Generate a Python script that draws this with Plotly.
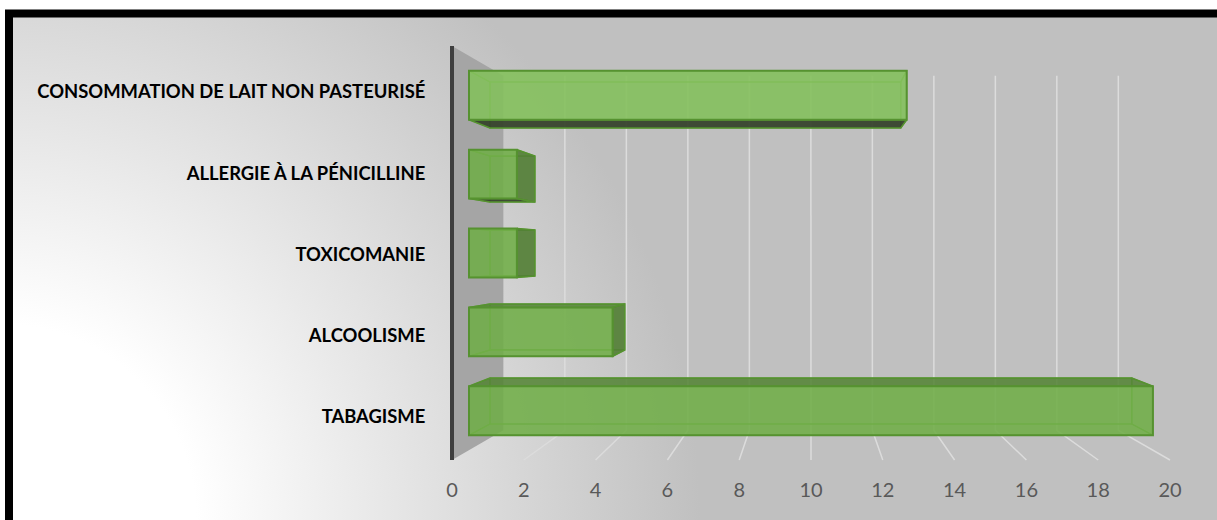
import base64
import plotly.graph_objects as go

# ---- data -------------------------------------------------------------
categories = [
    "TABAGISME",
    "ALCOOLISME",
    "TOXICOMANIE",
    "ALLERGIE À LA PÉNICILLINE",
    "CONSOMMATION DE LAIT NON PASTEURISÉ",
]
values = [20.0, 4.2, 1.4, 1.4, 12.8]
value_ticks = [0, 2, 4, 6, 8, 10, 12, 14, 16, 18, 20]
value_tick_text = [str(t) for t in value_ticks]

# ---- page / perspective scene (pixels) ---------------------------------
W, H = 1217, 520
CX, CY = 810.0, 253.0            # vanishing point of the 3-D box
FRONT_X0, FRONT_X1 = 452.0, 1170.0  # value 0 .. VMAX along the front floor edge
FRONT_TOP, FRONT_BOTTOM = 46.0, 460.0
VMAX = 20.0
DEPTH_SHRINK = 0.1435            # scale lost between the front edge and the back wall
Z_FRONT, Z_BACK = 0.331, 0.739   # depth of the bars' front and back faces
BAR_FRACTION = 0.62              # bar thickness as share of a category slot
LABEL_FIRST, LABEL_LAST = 417.0, 92.0  # category label centres (bottom, top)

n_cat = len(categories)
slot = (FRONT_BOTTOM - FRONT_TOP) / n_cat
half = slot * BAR_FRACTION / 2


def k(z):
    return 1.0 - DEPTH_SHRINK * z


def xf(v):
    return FRONT_X0 + (FRONT_X1 - FRONT_X0) * v / VMAX


def yf(p):
    # front-plane centre of category position p (0 = bottom)
    return FRONT_BOTTOM - slot * (p + 0.5)


def proj(v, y, z):
    s = k(z)
    return CX + (xf(v) - CX) * s, CY + (y - CY) * s


# ---- figure ---------------------------------------------------------------
fig = go.Figure()

# side wall (left) of the 3-D box
wall = [proj(0, FRONT_TOP, 0), proj(0, FRONT_TOP, 1), proj(0, FRONT_BOTTOM, 1), proj(0, FRONT_BOTTOM, 0)]
fig.add_trace(go.Scatter(
    x=[p[0] for p in wall] + [wall[0][0]], y=[p[1] for p in wall] + [wall[0][1]],
    fill="toself", fillcolor="#a5a5a5", mode="lines", line=dict(width=0),
    hoverinfo="skip", showlegend=False))

# back-wall gridlines and their floor continuation
gx, gy = [], []
for t in value_ticks[1:]:
    for pt in (proj(t, FRONT_TOP, 1), proj(t, FRONT_BOTTOM, 1), proj(t, FRONT_BOTTOM, 0)):
        gx.append(pt[0]); gy.append(pt[1])
    gx.append(None); gy.append(None)
fig.add_trace(go.Scatter(x=gx, y=gy, mode="lines", line=dict(color="#dcdcdc", width=1.5),
                         hoverinfo="skip", showlegend=False))

# dark front edge of the wall
e0, e1 = proj(0, FRONT_TOP, 0), proj(0, FRONT_BOTTOM, 0)
fig.add_trace(go.Scatter(x=[e0[0], e1[0]], y=[e0[1], e1[1]], mode="lines",
                         line=dict(color="#3f3f3f", width=4), hoverinfo="skip", showlegend=False))

HIDDEN_FILL = "rgba(112,173,71,0.12)"
HIDDEN_LINE = "rgba(104,168,64,0.95)"
EDGE = "rgb(86,146,48)"


def face(pts, fill, line, width):
    fig.add_trace(go.Scatter(
        x=[p[0] for p in pts] + [pts[0][0]], y=[p[1] for p in pts] + [pts[0][1]],
        fill="toself", fillcolor=fill, mode="lines", line=dict(color=line, width=width),
        hoverinfo="skip", showlegend=False))


# depth faces of every bar (the front face is the bar trace itself)
for p, val in enumerate(values):
    top, bot = yf(p) - half, yf(p) + half
    back = [proj(0, top, Z_BACK), proj(val, top, Z_BACK), proj(val, bot, Z_BACK), proj(0, bot, Z_BACK)]
    left = [proj(0, top, Z_FRONT), proj(0, top, Z_BACK), proj(0, bot, Z_BACK), proj(0, bot, Z_FRONT)]
    topf = [proj(0, top, Z_FRONT), proj(val, top, Z_FRONT), proj(val, top, Z_BACK), proj(0, top, Z_BACK)]
    botf = [proj(0, bot, Z_FRONT), proj(val, bot, Z_FRONT), proj(val, bot, Z_BACK), proj(0, bot, Z_BACK)]
    right = [proj(val, top, Z_FRONT), proj(val, top, Z_BACK), proj(val, bot, Z_BACK), proj(val, bot, Z_FRONT)]

    top_visible = top > CY
    bot_visible = bot < CY
    right_visible = xf(val) < CX

    face(back, HIDDEN_FILL, HIDDEN_LINE, 1.2)
    face(left, HIDDEN_FILL, HIDDEN_LINE, 1.2)
    if not top_visible:
        face(topf, HIDDEN_FILL, HIDDEN_LINE, 1.2)
    if not bot_visible:
        face(botf, HIDDEN_FILL, HIDDEN_LINE, 1.2)
    if not right_visible:
        face(right, HIDDEN_FILL, HIDDEN_LINE, 1.2)
    if top_visible:
        face(topf, "rgba(84,130,53,0.85)", EDGE, 1.5)
    if bot_visible:
        face(botf, "rgba(52,64,42,0.92)", EDGE, 1.5)
    if right_visible:
        face(right, "rgba(80,124,50,0.88)", EDGE, 1.5)

# front faces of the bars (the top bar catches more light)
positions = list(range(n_cat))
face_colors = ["rgba(112,173,71,0.86)"] * n_cat
face_colors[-1] = "rgba(132,192,92,0.88)"
fig.add_trace(go.Bar(
    x=values, y=positions, orientation="h", width=BAR_FRACTION,
    marker=dict(color=face_colors, line=dict(color=EDGE, width=2)),
    xaxis="x2", yaxis="y2", showlegend=False, hoverinfo="skip"))

# carrier for the category labels and the value labels
fig.add_trace(go.Scatter(x=value_ticks, y=[-50] * len(value_ticks), mode="markers",
                         marker=dict(opacity=0), xaxis="x3", yaxis="y3",
                         hoverinfo="skip", showlegend=False))

# axis ranges derived from the scene
k1 = k(Z_FRONT)
bar_x0 = CX + (xf(0) - CX) * k1
bar_dx = (xf(1) - xf(0)) * k1
x2_range = [(0 - bar_x0) / bar_dx, (W - bar_x0) / bar_dx]

y_at0 = CY + (yf(0) - CY) * k1
y_dp = slot * k1
y2_range = [(y_at0 - H) / y_dp, (y_at0 - 0) / y_dp]

lab_dp = (LABEL_FIRST - LABEL_LAST) / (n_cat - 1)
y3_range = [(LABEL_FIRST - H) / lab_dp, LABEL_FIRST / lab_dp]

fx_dx = xf(1) - xf(0)
x3_range = [(0 - FRONT_X0) / fx_dx, (W - FRONT_X0) / fx_dx]

# background gradient (radial, light in the lower-left corner)
IX, IY = 13, 17
iw, ih = W - IX, H - IY
svg = (
    f'<svg xmlns="http://www.w3.org/2000/svg" width="{iw}" height="{ih}" viewBox="0 0 {iw} {ih}" '
    f'preserveAspectRatio="none"><defs><radialGradient id="g" gradientUnits="userSpaceOnUse" '
    f'cx="{-IX}" cy="{H - IY}" r="700"><stop offset="0.28" stop-color="#ffffff"/>'
    f'<stop offset="1" stop-color="#c0c0c0"/></radialGradient></defs>'
    f'<rect width="{iw}" height="{ih}" fill="url(#g)"/></svg>'
)
bg_src = "data:image/svg+xml;base64," + base64.b64encode(svg.encode()).decode()

fig.update_layout(
    width=W, height=H, autosize=False,
    margin=dict(l=0, r=0, t=0, b=0, pad=0),
    paper_bgcolor="#ffffff", plot_bgcolor="rgba(0,0,0,0)",
    images=[dict(source=bg_src, xref="paper", yref="paper", x=IX / W, y=1 - IY / H,
                 sizex=iw / W, sizey=ih / H, xanchor="left", yanchor="top",
                 sizing="stretch", layer="below")],
    xaxis=dict(range=[0, W], visible=False, domain=[0, 1], fixedrange=True),
    yaxis=dict(range=[H, 0], visible=False, domain=[0, 1], fixedrange=True),
    xaxis2=dict(range=x2_range, overlaying="x", visible=False, fixedrange=True),
    yaxis2=dict(range=y2_range, overlaying="y", visible=False, fixedrange=True),
    yaxis3=dict(range=y3_range, overlaying="y", anchor="free", position=bar_x0 / W,
                tickmode="array", tickvals=positions, ticktext=categories,
                ticks="outside", ticklen=40, tickcolor="rgba(0,0,0,0)",
                showgrid=False, zeroline=False, showline=False, fixedrange=True,
                tickfont=dict(family="Lato", size=18.4, color="#000000", weight="bold")),
    xaxis3=dict(range=x3_range, overlaying="x", anchor="free", position=1 - 466 / H, side="bottom",
                tickmode="array", tickvals=value_ticks, ticktext=value_tick_text,
                ticks="outside", ticklen=6, tickcolor="rgba(0,0,0,0)",
                showgrid=False, zeroline=False, showline=False, fixedrange=True,
                tickfont=dict(family="Lato", size=20, color="#595959")),
    shapes=[dict(type="rect", xref="paper", yref="paper",
                 x0=9 / W, x1=1.05, y0=-0.05, y1=1 - 13.5 / H,
                 line=dict(color="#000000", width=8), fillcolor="rgba(0,0,0,0)", layer="above")],
)

fig.write_html("out.html", config={"displayModeBar": False, "staticPlot": True})
